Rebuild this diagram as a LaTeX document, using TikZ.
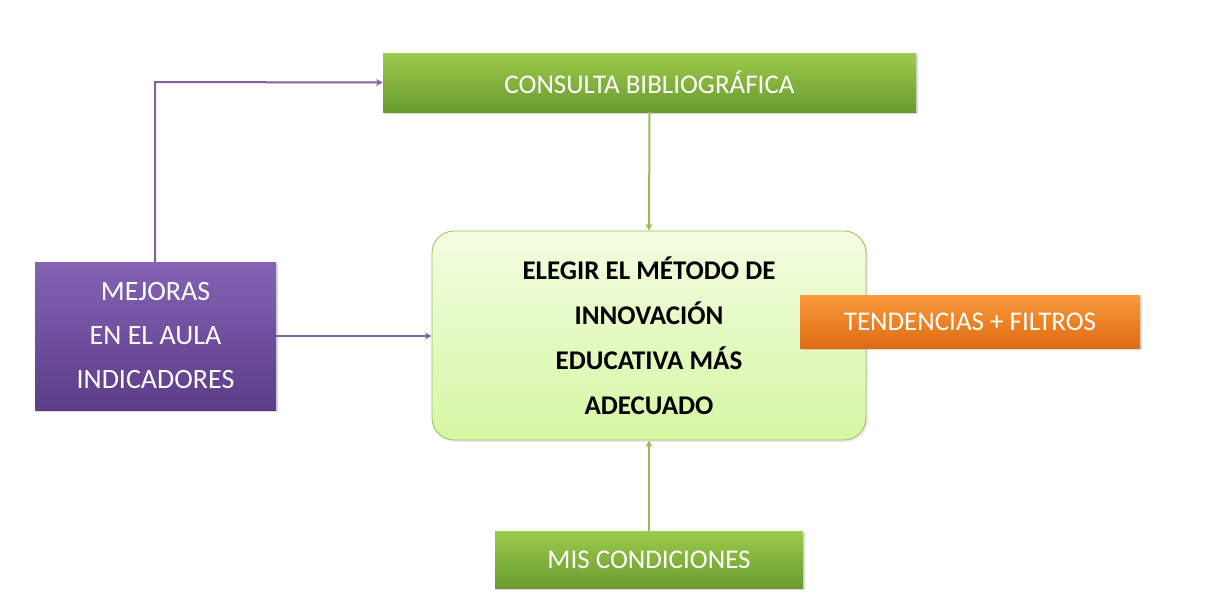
\documentclass[tikz,border=0pt]{standalone}
\usepackage{fontspec}
\setmainfont{Carlito}
\usetikzlibrary{arrows.meta,shadows}
\definecolor{gtop}{HTML}{9CCB4C}
\definecolor{gbot}{HTML}{6A9A2E}
\definecolor{ptop}{HTML}{8462B4}
\definecolor{pbot}{HTML}{5C3D88}
\definecolor{otop}{HTML}{F99B3C}
\definecolor{obot}{HTML}{DF6A12}
\definecolor{ctop}{HTML}{F3FDE0}
\definecolor{cbot}{HTML}{D6F7A4}
\definecolor{gline}{HTML}{9BBB59}
\definecolor{pline}{HTML}{8064A2}
\begin{document}
\begin{tikzpicture}[x=1pt,y=-1pt,
  box/.style={inner sep=0pt,text=white,font=\fontsize{27}{32}\selectfont,align=center,drop shadow={opacity=0.3,shadow xshift=2pt,shadow yshift=-2pt}},
  gbox/.style={box,top color=gtop,bottom color=gbot},
  conn/.style={line width=2pt,-{Stealth[length=7pt,width=7pt]}}]
\useasboundingbox (0,0) rectangle (1214,614);
\node[gbox,minimum width=533pt,minimum height=59pt] (cons) at (649.5,82.5) {CONSULTA BIBLIOGRÁFICA};
\node[gbox,minimum width=308pt,minimum height=57pt] (mis) at (649,559.5) {MIS CONDICIONES};
\node[box,top color=ptop,bottom color=pbot,minimum width=241pt,minimum height=148pt,font=\fontsize{28}{44}\selectfont] (mej) at (155.5,336) {MEJORAS\\ EN EL AULA\\INDICADORES};
\node[draw=gline,line width=0.8pt,rounded corners=22pt,top color=ctop,bottom color=cbot,minimum width=434pt,minimum height=209pt,align=center,font=\bfseries\fontsize{27}{45}\selectfont,drop shadow={opacity=0.15,shadow xshift=2pt,shadow yshift=-2pt}] (cen) at (649,335.5) {ELEGIR EL MÉTODO DE\\INNOVACIÓN\\EDUCATIVA MÁS\\ADECUADO};
\node[box,top color=otop,bottom color=obot,minimum width=340pt,minimum height=53pt] (ten) at (970,321.5) {TENDENCIAS + FILTROS};
\coordinate (c1) at (155,82);
\draw[conn,pline] (mej.north -| c1) -- (c1) -- (cons.west);
\draw[conn,pline] (mej.east) -- (mej.east -| cen.west);
\draw[conn,gline] (cons.south) -- (cen.north);
\draw[conn,gline] (mis.north) -- (cen.south);
\end{tikzpicture}
\end{document}
